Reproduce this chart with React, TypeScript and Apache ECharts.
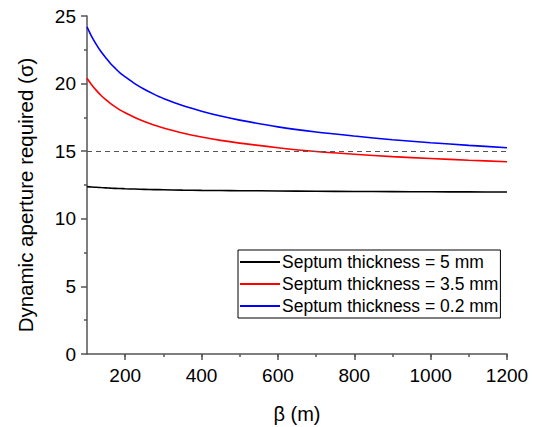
import React, { useEffect, useRef } from "react";
import * as echarts from "echarts";

const beta = [100, 112, 125, 137, 150, 162, 175, 187, 200, 225, 250, 275, 300, 350, 400, 450, 500, 600, 700, 800, 900, 1000, 1100, 1200];
const thick5 = [12.38, 12.35, 12.33, 12.31, 12.29, 12.27, 12.25, 12.24, 12.22, 12.2, 12.18, 12.16, 12.15, 12.12, 12.1, 12.09, 12.08, 12.06, 12.04, 12.02, 12.01, 12.0, 11.99, 11.98];
const thick35 = [20.4, 19.92, 19.48, 19.12, 18.8, 18.52, 18.26, 18.04, 17.84, 17.5, 17.2, 16.94, 16.72, 16.35, 16.05, 15.8, 15.6, 15.26, 14.98, 14.78, 14.6, 14.46, 14.33, 14.22];
const thick02 = [24.2, 23.5, 22.87, 22.35, 21.88, 21.47, 21.1, 20.78, 20.5, 20.0, 19.58, 19.22, 18.9, 18.38, 17.96, 17.6, 17.3, 16.8, 16.42, 16.12, 15.85, 15.63, 15.43, 15.26];
const seriesNames = ["Septum thickness = 5 mm", "Septum thickness = 3.5 mm", "Septum thickness = 0.2 mm"];
const xMajorTicks = [200, 400, 600, 800, 1000, 1200];
const threshold = 15;

const FONT = "Liberation Sans, Arial, sans-serif";
const AXIS = "#555";

export default function App() {
  const ref = useRef<HTMLDivElement>(null);
  useEffect(() => {
    if (!ref.current) return;
    const chart = echarts.init(ref.current, undefined, { renderer: "svg" });
    const pair = (ys: number[]) => beta.map((b, i) => [b, ys[i]]);
    chart.setOption({
      animation: false,
      backgroundColor: "#fff",
      textStyle: { fontFamily: FONT },
      grid: { left: 87, right: 31, top: 16, bottom: 73, containLabel: false, outerBoundsMode: "none" },
      legend: {
        orient: "vertical",
        left: 238,
        top: 250,
        itemWidth: 40,
        itemHeight: 2,
        itemGap: 4,
        padding: [3, 2, 3, 2],
        borderColor: "#000",
        borderWidth: 1,
        textStyle: { fontFamily: FONT, fontSize: 17.5, color: "#000", padding: [0, 0, 0, -3] },
        data: seriesNames.map((n) => ({ name: n, icon: "rect" })),
        itemStyle: { borderWidth: 0 },
      },
      xAxis: [
        {
          type: "value",
          min: 100,
          max: 1200,
          interval: 100,
          name: "β (m)",
          nameLocation: "middle",
          nameGap: 50,
          nameTextStyle: { fontFamily: FONT, fontSize: 20, color: "#000" },
          axisLine: { show: true, lineStyle: { color: AXIS, width: 1.5 } },
          axisTick: { show: true, length: 3, lineStyle: { color: AXIS, width: 1.5 } },
          axisLabel: {
            fontFamily: FONT,
            fontSize: 19,
            color: "#000",
            margin: 12,
            showMinLabel: false,
            formatter: (v: number) => (xMajorTicks.indexOf(v) >= 0 ? String(v) : ""),
          },
          splitLine: { show: false },
        },
        {
          type: "value",
          min: 100,
          max: 1200,
          position: "bottom",
          axisLine: { show: false },
          axisTick: { show: true, length: 6, lineStyle: { color: AXIS, width: 1.5 }, customValues: xMajorTicks },
          axisLabel: { show: false, customValues: xMajorTicks },
          splitLine: { show: false },
        },
      ],
      yAxis: {
        type: "value",
        min: 0,
        max: 25,
        interval: 5,
        name: "Dynamic aperture required (σ)",
        nameLocation: "middle",
        nameGap: 51,
        nameTextStyle: { fontFamily: FONT, fontSize: 20.5, color: "#000", padding: [0, 20, 0, 0] },
        axisLine: { show: true, lineStyle: { color: AXIS, width: 1.5 } },
        axisTick: { show: true, length: 6, lineStyle: { color: AXIS, width: 1.5 } },
        minorTick: { show: true, splitNumber: 2, length: 3, lineStyle: { color: AXIS, width: 1.5 } },
        axisLabel: { fontFamily: FONT, fontSize: 19, color: "#000", margin: 11 },
        splitLine: { show: false },
      },
      series: [
        {
          name: seriesNames[0],
          type: "line",
          data: pair(thick5),
          smooth: 0.3,
          symbol: "none",
          lineStyle: { color: "#000", width: 1.6 },
          itemStyle: { color: "#000" },
          markLine: {
            silent: true,
            symbol: "none",
            label: { show: false },
            lineStyle: { color: "#555", type: [5, 4], width: 1.2 },
            data: [{ yAxis: threshold }],
          },
        },
        {
          name: seriesNames[1],
          type: "line",
          data: pair(thick35),
          smooth: 0.3,
          symbol: "none",
          lineStyle: { color: "#ff0000", width: 1.6 },
          itemStyle: { color: "#ff0000" },
        },
        {
          name: seriesNames[2],
          type: "line",
          data: pair(thick02),
          smooth: 0.3,
          symbol: "none",
          lineStyle: { color: "#0000ff", width: 1.6 },
          itemStyle: { color: "#0000ff" },
        },
      ],
    });
    return () => chart.dispose();
  }, []);
  return <div ref={ref} style={{ width: 538, height: 427, position: "absolute", left: 0, top: 0 }} />;
}
